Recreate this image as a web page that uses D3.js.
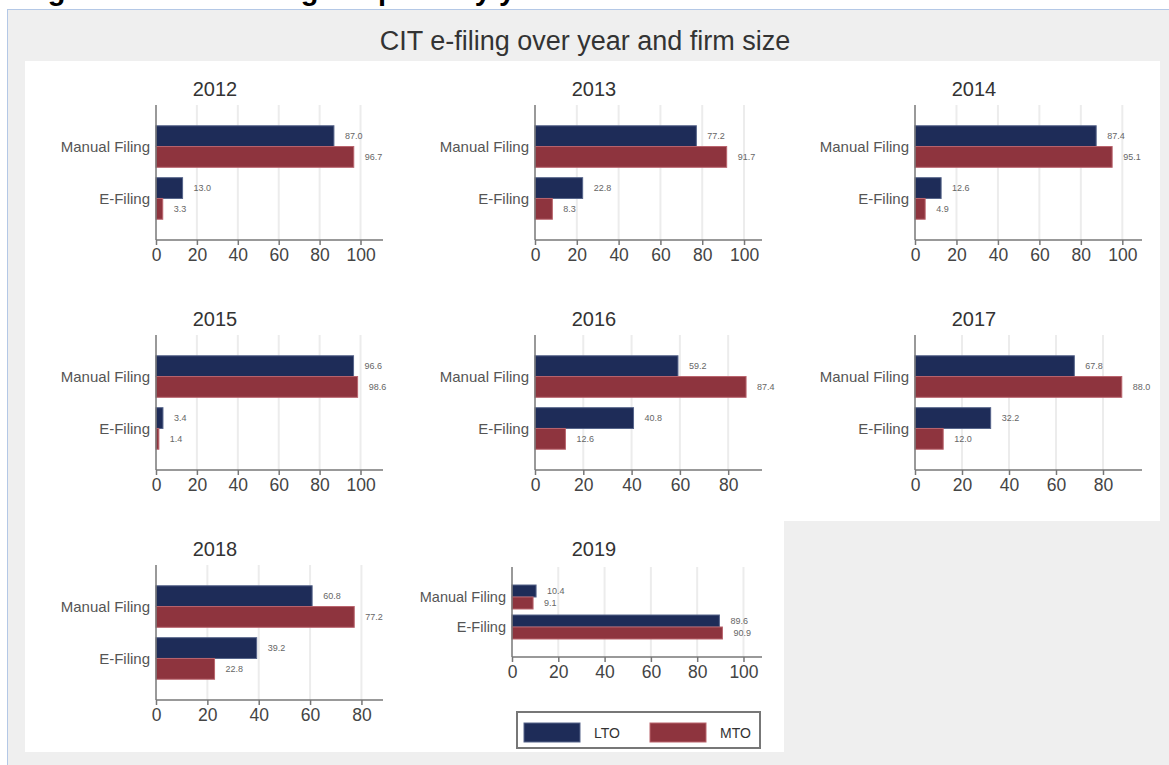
<!DOCTYPE html>
<html>
<head>
<meta charset="utf-8">
<script src="https://cdn.jsdelivr.net/npm/d3@7"></script>
<style>
  body { margin: 0; background: #fff; }
  svg { display: block; font-family: "Liberation Sans", Arial, sans-serif; }
</style>
</head>
<body>
<svg id="chart" width="1169" height="765"></svg>
<script>
// data
const years = ['2012', '2013', '2014', '2015', '2016', '2017', '2018', '2019'];
const categories = ['Manual Filing', 'E-Filing'];
const seriesNames = ['LTO', 'MTO'];
const ltoManual  = [87.0, 77.2, 87.4, 96.6, 59.2, 67.8, 60.8, 10.4];
const ltoEfiling = [13.0, 22.8, 12.6, 3.4, 40.8, 32.2, 39.2, 89.6];
const mtoManual  = [96.7, 91.7, 95.1, 98.6, 87.4, 88.0, 77.2, 9.1];
const mtoEfiling = [3.3, 8.3, 4.9, 1.4, 12.6, 12.0, 22.8, 90.9];
const tickMax = [100, 100, 100, 100, 80, 80, 80, 100];
const axisMax = [111, 108.6, 109.5, 111, 94, 96.6, 88.4, 108];

const colors = { LTO: '#1e2c58', MTO: '#8e343e' };
const strokes = { LTO: '#56648a', MTO: '#b9646d' };

const svg = d3.select('#chart');

// cropped document caption above the graph (only descenders show)
svg.append('text')
  .attr('x', 22).attr('y', 0)
  .style('font-size', '29px').style('font-weight', 'bold')
  .attr('fill', '#000')
  .text('Figure 10: CIT e-filing adoption by year and firm size');

// outer graph region
svg.append('rect')
  .attr('x', 7.5).attr('y', 9.5).attr('width', 1170).attr('height', 770)
  .attr('fill', '#efefef').attr('stroke', '#b4c8e6');

svg.append('text')
  .attr('x', 585).attr('y', 50)
  .attr('text-anchor', 'middle')
  .style('font-size', '27px')
  .attr('fill', '#333')
  .text('CIT e-filing over year and firm size');

const cellX = [25, 404, 784];
const cellY = [61, 291, 521];
const cellW = [379, 380, 376];
const cellH = 230;

years.forEach(function (yr, i) {
  let col = i % 3, row = Math.floor(i / 3);
  let x0 = cellX[col], y0 = cellY[row];
  let last = (i === years.length - 1);

  let g = svg.append('g').attr('class', 'panel');
  g.append('rect')
    .attr('x', x0).attr('y', y0)
    .attr('width', cellW[col]).attr('height', row === 2 ? cellH + 1 : cellH)
    .attr('fill', '#fff');

  g.append('text')
    .attr('x', x0 + 190).attr('y', y0 + 35)
    .attr('text-anchor', 'middle')
    .style('font-size', '20px')
    .attr('fill', '#333')
    .text(yr);

  let left = last ? x0 + 108 : x0 + 131;
  let right = x0 + 358;
  let top = y0 + (last ? 46 : 44);
  let bottom = y0 + (last ? 136 : 179);

  let x = d3.scaleLinear().domain([0, axisMax[i]]).range([left, right]);
  let y = d3.scalePoint().domain(categories).range([top, bottom]).padding(last ? 1 : 0.8);
  let barH = y.step() * 0.4;

  // grid
  let ticks = d3.range(0, tickMax[i] + 1, 20);
  g.append('g').selectAll('line')
    .data(ticks.slice(1))
    .enter().append('line')
    .attr('x1', d => x(d)).attr('x2', d => x(d))
    .attr('y1', top).attr('y2', bottom)
    .attr('stroke', '#ececec').attr('stroke-width', 2);

  let rows = [
    { cat: 'Manual Filing', s: 'LTO', v: ltoManual[i] },
    { cat: 'Manual Filing', s: 'MTO', v: mtoManual[i] },
    { cat: 'E-Filing', s: 'LTO', v: ltoEfiling[i] },
    { cat: 'E-Filing', s: 'MTO', v: mtoEfiling[i] }
  ];

  g.append('g').selectAll('rect')
    .data(rows)
    .enter().append('rect')
    .attr('x', x(0))
    .attr('y', d => d.s === 'LTO' ? y(d.cat) - barH : y(d.cat))
    .attr('width', d => x(d.v) - x(0))
    .attr('height', barH)
    .attr('fill', d => colors[d.s])
    .attr('stroke', d => strokes[d.s])
    .attr('stroke-width', 1);

  g.append('g').selectAll('text')
    .data(rows)
    .enter().append('text')
    .attr('x', d => x(d.v) + 11)
    .attr('y', d => d.s === 'LTO' ? y(d.cat) - barH / 2 : y(d.cat) + barH / 2)
    .attr('dy', '0.35em')
    .style('font-size', '9px')
    .attr('fill', '#666')
    .text(d => d.v.toFixed(1));

  // axes
  let xAxis = g.append('g')
    .attr('transform', 'translate(0,' + bottom + ')')
    .call(d3.axisBottom(x).tickValues(ticks).tickSize(5).tickSizeOuter(0).tickPadding(4));
  xAxis.select('.domain').attr('stroke', '#777').attr('stroke-width', 1.5)
    .attr('d', 'M' + left + ',0H' + right);
  xAxis.selectAll('.tick line').attr('stroke', '#777').attr('stroke-width', 1.5);
  xAxis.selectAll('.tick text').style('font-size', '17.5px').style('font-family', 'Liberation Sans, Arial, sans-serif').attr('fill', '#444');

  let yAxis = g.append('g')
    .attr('transform', 'translate(' + left + ',0)')
    .call(d3.axisLeft(y).tickSize(0).tickPadding(6));
  yAxis.select('.domain').attr('stroke', '#777').attr('stroke-width', 1.5)
    .attr('d', 'M0,' + top + 'V' + bottom);
  yAxis.selectAll('.tick text').style('font-size', last ? '14.5px' : '15px').style('font-family', 'Liberation Sans, Arial, sans-serif').attr('fill', '#555');
});

// legend
const legend = svg.append('g').attr('class', 'legend');
legend.append('rect')
  .attr('x', 517).attr('y', 712).attr('width', 243).attr('height', 36)
  .attr('fill', '#fff').attr('stroke', '#777').attr('stroke-width', 2);
const legX = d3.scalePoint().domain(seriesNames).range([524, 650]);
legend.selectAll('rect.sw')
  .data(seriesNames)
  .enter().append('rect')
  .attr('class', 'sw')
  .attr('x', d => legX(d)).attr('y', 723)
  .attr('width', 56).attr('height', 19)
  .attr('fill', d => colors[d]).attr('stroke', d => strokes[d]);
legend.selectAll('text')
  .data(seriesNames)
  .enter().append('text')
  .attr('x', d => legX(d) + 70).attr('y', 733)
  .attr('dy', '0.35em')
  .style('font-size', '14px')
  .attr('fill', '#333')
  .text(d => d);
</script>
</body>
</html>
